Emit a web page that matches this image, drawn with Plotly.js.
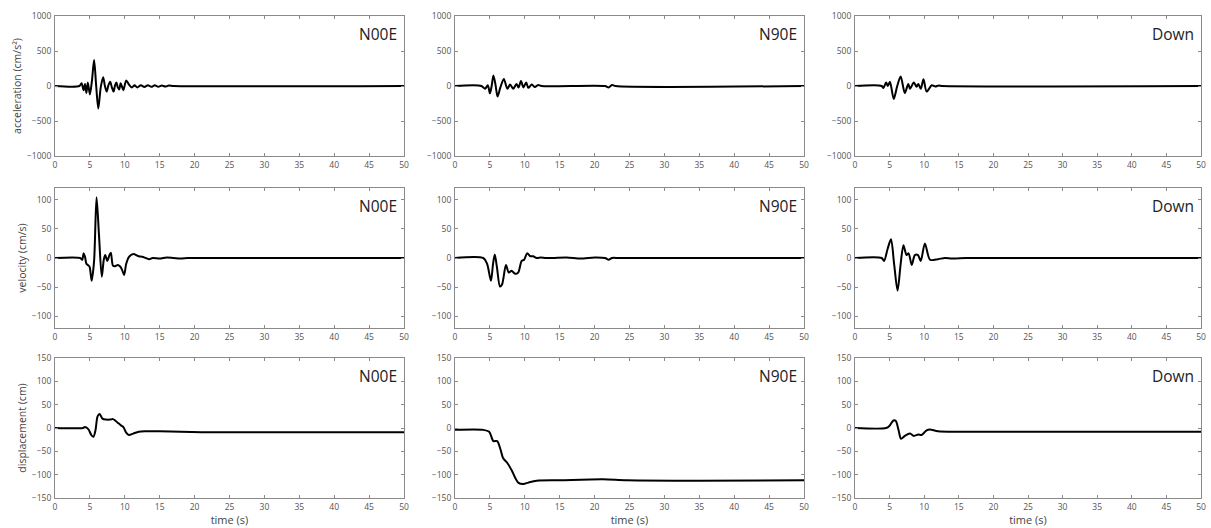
<!DOCTYPE html>
<html>
<head>
<meta charset="utf-8">
<script src="https://cdn.plot.ly/plotly-3.0.1.min.js"></script>
<style>
  html, body { margin: 0; padding: 0; background: #fff; }
  #chart { width: 1211px; height: 528px; }
</style>
</head>
<body>
<div id="chart"></div>
<script>
// ---------- data ----------
const components = ["N00E", "N90E", "Down"];
const quantities = ["acceleration (cm/s²)", "velocity (cm/s)", "displacement (cm)"];
const xTickVals = [0, 5, 10, 15, 20, 25, 30, 35, 40, 45, 50];
const accTicks = [-1000, -500, 0, 500, 1000];
const velTicks = [-100, -50, 0, 50, 100];
const dispTicks = [-150, -100, -50, 0, 50, 100, 150];

// N00E
const accN00E_t = [0, 3.5, 3.8, 4.1, 4.3, 4.5, 4.7, 5.0, 5.3, 5.6, 5.9, 6.2, 6.55, 6.9, 7.15, 7.4, 7.65, 7.9, 8.15, 8.4, 8.6, 8.8, 9.0, 9.2, 9.4, 9.6, 9.8, 10.2, 10.6, 11.0, 11.4, 11.8, 12.3, 12.8, 13.3, 13.8, 14.3, 14.8, 15.3, 15.8, 16.3, 17, 50];
const accN00E_v = [0, 0, 40, -60, 30, -100, 50, -120, 80, 370, 0, -320, -20, 125, 0, -80, 10, 60, -20, -80, 10, 50, -20, -50, 40, -10, -60, 80, 20, -20, 10, -20, 12, -15, 12, -12, 10, -10, 8, -8, 6, 0, 0];
const velN00E_t = [0, 3.6, 3.9, 4.1, 4.3, 4.5, 4.7, 4.95, 5.25, 5.6, 5.95, 6.3, 6.7, 7.0, 7.2, 7.5, 7.8, 8.0, 8.3, 8.6, 9.0, 9.3, 9.6, 9.9, 10.2, 10.6, 11.2, 12, 12.5, 13, 13.5, 14, 15, 16, 17, 18, 19, 20, 50];
const velN00E_v = [0, 0, -3, 8, 2, -10, -12, -15, -39, -5, 104, 40, -32, -2, 5, -5, 5, 9, -13, -14, -12, -14, -20, -29, -10, 2, 7, 3, 2, 0, -2, 0, -1, 1, 0, -1, 0, 0, 0];
const dispN00E_t = [0, 4, 4.3, 4.8, 5.2, 5.5, 5.8, 6.1, 6.4, 6.8, 7.3, 7.9, 8.3, 8.7, 9.1, 9.5, 9.8, 10.2, 10.6, 11.2, 12, 13, 15, 18, 21, 25, 30, 50];
const dispN00E_v = [0, 0, 2, -3, -15, -19, -5, 25, 30, 20, 18, 18, 19, 15, 10, 5, 2, -10, -15, -12, -8, -7, -7, -8, -9, -9, -9, -9];

// N90E
const accN90E_t = [0, 3.8, 4.3, 4.7, 5.0, 5.25, 5.5, 5.8, 6.1, 6.5, 7.0, 7.5, 7.9, 8.35, 8.8, 9.1, 9.45, 9.8, 10.2, 10.5, 11.0, 11.45, 11.9, 12.4, 21.5, 22.0, 22.5, 23, 50];
const accN90E_v = [0, 0, -40, 10, -105, 0, 150, 20, -150, -20, 100, -40, 20, -40, 30, -20, 70, -20, 50, -25, 20, -15, 15, 0, 0, -20, 15, 0, 0];
const velN90E_t = [0, 4.05, 4.6, 5.15, 5.45, 5.7, 6.0, 6.45, 6.75, 7.3, 7.7, 8.1, 8.6, 9.05, 9.55, 9.9, 10.35, 10.8, 11.2, 11.7, 12.3, 13, 14, 16, 18, 20, 21.5, 22.0, 22.5, 23.5, 50];
const velN90E_v = [0, 0, -10, -39, -10, 6, -15, -49, -45, -12, -25, -22, -27, -25, -5, -3, 8, 3, 3, 0, 1, 0, 0, 1, -1, 1, 0, -3, 0, 0, 0];
const dispN90E_t = [0, 4.05, 4.9, 5.5, 6.05, 6.5, 6.9, 7.5, 8.1, 9.05, 9.8, 10.5, 11.7, 15, 21.2, 24.6, 35, 50];
const dispN90E_v = [-4, -4, -8, -28, -28, -45, -65, -75, -90, -117, -120, -117, -113, -112, -110, -112, -113, -112];

// Down
const accDown_t = [0, 3.85, 4.1, 4.5, 4.75, 5.05, 5.6, 6.1, 6.6, 7.2, 7.7, 7.95, 8.5, 8.9, 9.15, 9.5, 9.9, 10.35, 11.1, 11.6, 12.1, 12.6, 50];
const accDown_v = [0, 0, -30, 50, 0, 60, -185, 0, 135, -100, 30, -40, 50, -10, 30, -40, 95, -80, 10, -8, 6, 0, 0];
const velDown_t = [0, 3.85, 4.2, 4.7, 5.2, 5.65, 6.15, 6.6, 7.0, 7.45, 7.75, 8.2, 8.65, 9.1, 9.5, 10.1, 10.85, 12, 13, 14, 16, 18, 50];
const velDown_v = [0, 0, -5, 15, 32, -10, -56, -10, 22, 5, 8, -12, 5, 5, -5, 25, -3, -2, 0, -1, 0, 0, 0];
const dispDown_t = [0, 4.5, 5.0, 5.55, 5.9, 6.3, 6.65, 7.2, 7.95, 8.5, 9.15, 9.6, 10.35, 10.8, 12, 15, 20, 30, 50];
const dispDown_v = [0, 0, 5, 16, 15, -5, -23, -17, -12, -17, -14, -15, -5, -3, -7, -8, -8, -8, -8];

// ---------- build ----------
const series = [
  [[accN00E_t, accN00E_v], [accN90E_t, accN90E_v], [accDown_t, accDown_v]],
  [[velN00E_t, velN00E_v], [velN90E_t, velN90E_v], [velDown_t, velDown_v]],
  [[dispN00E_t, dispN00E_v], [dispN90E_t, dispN90E_v], [dispDown_t, dispDown_v]]
];
const yRanges = [[-1000, 1000], [-120, 120], [-150, 150]];
const yTicks = [accTicks, velTicks, dispTicks];

const W = 1211, H = 528;
const colPx = [[55, 404], [455, 804], [855, 1201]];
const rowPx = [[16, 156], [188, 328], [358, 498]];

const traces = [];
const layout = {
  width: W, height: H,
  margin: {l: 0, r: 0, t: 0, b: 0},
  paper_bgcolor: "#fff", plot_bgcolor: "#fff",
  showlegend: false,
  font: {family: "Open Sans, Lato, sans-serif", color: "#444"},
  annotations: []
};

for (let r = 0; r < 3; r++) {
  for (let c = 0; c < 3; c++) {
    const k = r * 3 + c + 1;
    const xa = "x" + (k === 1 ? "" : k), ya = "y" + (k === 1 ? "" : k);
    const xKey = "xaxis" + (k === 1 ? "" : k), yKey = "yaxis" + (k === 1 ? "" : k);
    traces.push({
      x: series[r][c][0], y: series[r][c][1],
      type: "scatter", mode: "lines",
      line: {color: "#000", width: 2, shape: "spline", smoothing: 0.8},
      xaxis: xa, yaxis: ya, hoverinfo: "skip"
    });
    const common = {
      showline: true, mirror: "ticks", linecolor: "#8a8a8a", linewidth: 1,
      ticks: "inside", ticklen: 3, tickcolor: "#8a8a8a", tickwidth: 1,
      showgrid: false, zeroline: false,
      tickfont: {size: 8.5, color: "#555", family: "Open Sans, sans-serif"}
    };
    layout[xKey] = Object.assign({}, common, {
      domain: [colPx[c][0] / W, colPx[c][1] / W],
      anchor: ya, range: [0, 50], tickvals: xTickVals,
      ticklabelstandoff: 1,
      title: r === 2 ? {text: "time (s)", font: {size: 11, color: "#444"}, standoff: 2} : {text: ""}
    });
    layout[yKey] = Object.assign({}, common, {
      domain: [1 - rowPx[r][1] / H, 1 - rowPx[r][0] / H],
      anchor: xa, range: yRanges[r], tickvals: yTicks[r],
      ticklabelstandoff: 1,
      title: c === 0 ? {text: quantities[r], font: {size: 10.5, color: "#444"}, standoff: 3} : {text: ""}
    });
    layout.annotations.push({
      xref: xa + " domain", yref: ya + " domain",
      x: 0.985, y: 0.965, xanchor: "right", yanchor: "top",
      text: components[c], showarrow: false,
      font: {size: 15.5, color: "#222", family: "Open Sans, sans-serif"}
    });
  }
}

Plotly.newPlot("chart", traces, layout, {displayModeBar: false, staticPlot: true});
</script>
</body>
</html>
